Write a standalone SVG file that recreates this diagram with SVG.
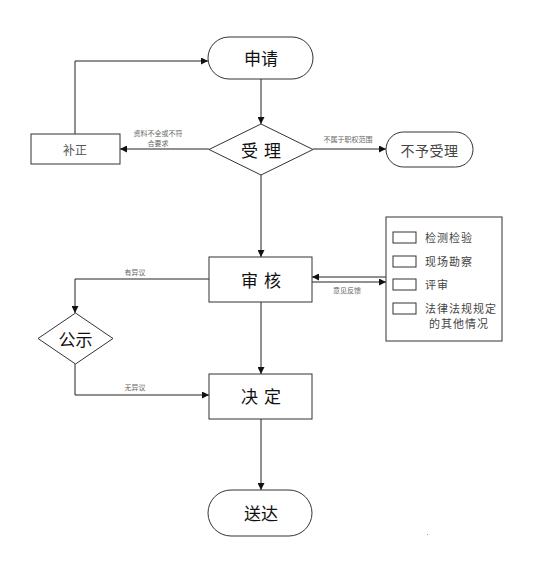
<svg xmlns="http://www.w3.org/2000/svg" width="554" height="574" viewBox="0 0 554 574">
<style>
.shape{fill:#fff;stroke:#333;stroke-width:1}
.ln{fill:none;stroke:#222;stroke-width:1}
.big{font-family:"Noto Sans CJK SC","Noto Sans",sans-serif;font-size:17px;fill:#111;text-anchor:middle;dominant-baseline:central}
.mid{font-family:"Noto Sans CJK SC","Noto Sans",sans-serif;font-size:14px;fill:#444;text-anchor:middle;dominant-baseline:central}
.sm{font-family:"Noto Sans CJK SC","Noto Sans",sans-serif;font-size:12px;fill:#555;text-anchor:middle;dominant-baseline:central}
.lab{font-family:"Noto Sans CJK SC","Noto Sans",sans-serif;font-size:7px;fill:#666;text-anchor:middle;dominant-baseline:central}
.item{font-family:"Noto Sans CJK SC","Noto Sans",sans-serif;font-size:11px;fill:#444;dominant-baseline:central;letter-spacing:1px}
</style>
<defs>
<marker id="ah" viewBox="0 0 10 10" refX="10" refY="5" markerWidth="7" markerHeight="7" markerUnits="userSpaceOnUse" orient="auto">
<path d="M0,0 L10,5 L0,10 z" fill="#111"/>
</marker>
</defs>
<rect width="554" height="574" fill="#fff"/>
<g id="connectors">
<path class="ln" d="M261,79 V124" marker-end="url(#ah)"/>
<path class="ln" d="M209,149 H120" marker-end="url(#ah)"/>
<path class="ln" d="M75,134 V61 H208" marker-end="url(#ah)"/>
<path class="ln" d="M313,149 H386" marker-end="url(#ah)"/>
<path class="ln" d="M261,175 V257" marker-end="url(#ah)"/>
<path class="ln" d="M386,277 H312" marker-end="url(#ah)"/>
<path class="ln" d="M312,282 H386" marker-end="url(#ah)"/>
<path class="ln" d="M209,279 H75 V313" marker-end="url(#ah)"/>
<path class="ln" d="M75,364 V395 H209" marker-end="url(#ah)"/>
<path class="ln" d="M261,302 V374" marker-end="url(#ah)"/>
<path class="ln" d="M261,419 V490" marker-end="url(#ah)"/>
<text class="lab" x="158" y="133">资料不全或不符</text>
<text class="lab" x="158" y="143">合要求</text>
<text class="lab" x="348" y="139">不属于职权范围</text>
<text class="lab" x="135" y="272">有异议</text>
<text class="lab" x="135" y="387">无异议</text>
<text class="lab" x="347" y="290">意见反馈</text>
</g>
<g id="apply">
<rect class="shape" x="208" y="37" width="105" height="42" rx="21" ry="21"/>
<text class="big" x="261" y="57">申请</text>
</g>
<g id="accept">
<polygon class="shape" points="261,124 313,149.5 261,175 209,149.5"/>
<text class="big" x="264" y="149" letter-spacing="6">受理</text>
</g>
<g id="correct">
<rect class="shape" x="31" y="134" width="89" height="30"/>
<text class="sm" x="75" y="149">补正</text>
</g>
<g id="reject">
<rect class="shape" x="386" y="132" width="87" height="35" rx="17.5" ry="17.5"/>
<text class="mid" x="429.5" y="149.5" letter-spacing="0.5">不予受理</text>
</g>
<g id="review">
<rect class="shape" x="209" y="257" width="103" height="45"/>
<text class="big" x="264" y="279" letter-spacing="6">审核</text>
</g>
<g id="publicize">
<polygon class="shape" points="75.5,313 113,338.5 75.5,364 38,338.5"/>
<text class="big" x="75.5" y="338">公示</text>
</g>
<g id="decide">
<rect class="shape" x="209" y="374" width="103" height="45"/>
<text class="big" x="264" y="395" letter-spacing="6">决定</text>
</g>
<g id="deliver">
<rect class="shape" x="208" y="490" width="104" height="46" rx="23" ry="23"/>
<text class="big" x="261" y="512">送达</text>
</g>
<g id="side">
<rect class="shape" x="386" y="217" width="116" height="124"/>
<rect class="shape" x="393" y="232" width="23" height="11"/>
<rect class="shape" x="393" y="256" width="23" height="11"/>
<rect class="shape" x="393" y="279" width="23" height="11"/>
<rect class="shape" x="393" y="303" width="23" height="11"/>
<text class="item" x="425" y="237">检测检验</text>
<text class="item" x="425" y="261">现场勘察</text>
<text class="item" x="425" y="284">评审</text>
<text class="item" x="425" y="308">法律法规规定</text>
<text class="item" x="429" y="323">的其他情况</text>
</g>
<rect x="427" y="534" width="1" height="1" fill="#999"/>
</svg>
